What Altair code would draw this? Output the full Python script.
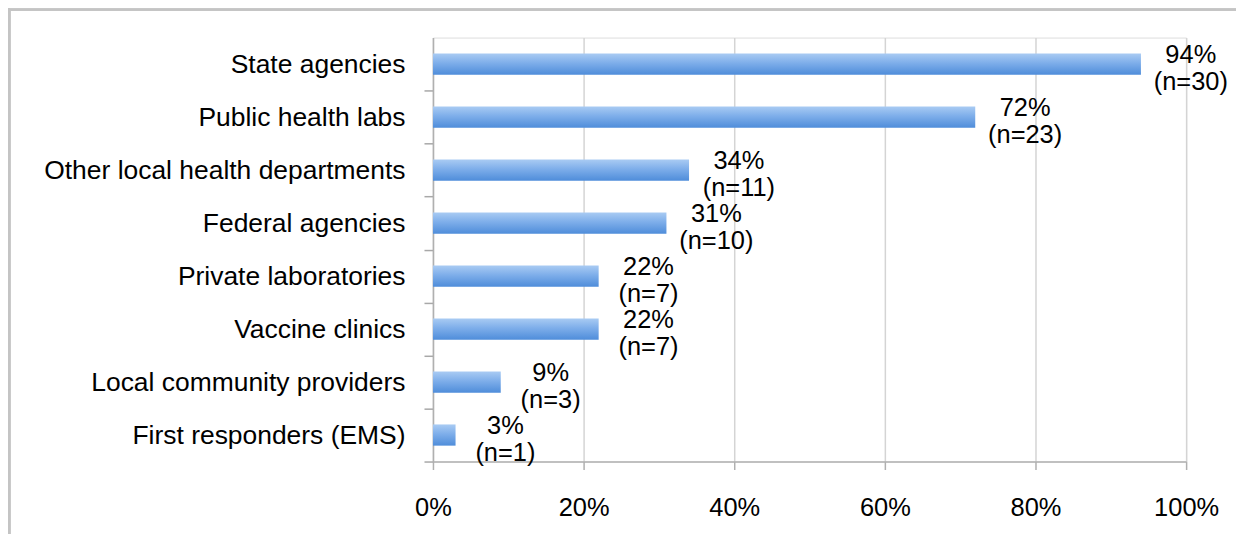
import altair as alt
import pandas as pd

categories = [
    "State agencies",
    "Public health labs",
    "Other local health departments",
    "Federal agencies",
    "Private laboratories",
    "Vaccine clinics",
    "Local community providers",
    "First responders (EMS)",
]
percent = [94, 72, 34, 31, 22, 22, 9, 3]
counts = [30, 23, 11, 10, 7, 7, 3, 1]
x_ticks = [0, 20, 40, 60, 80, 100]

df = pd.DataFrame({
    "category": categories,
    "pct": percent,
    "n": counts,
})
df["label"] = [f"{p}%\n(n={c})" for p, c in zip(percent, counts)]

FONT = "Liberation Sans"
FS = 25.5
W, H = 755, 425
STEP = H / 8

grad = alt.Gradient(
    gradient="linear",
    stops=[
        alt.GradientStop(color="#a9cbf3", offset=0),
        alt.GradientStop(color="#7eaeea", offset=0.45),
        alt.GradientStop(color="#4f8dda", offset=1),
    ],
    x1=0, x2=0, y1=0, y2=1,
)

y_enc = alt.Y(
    "category:N",
    sort=categories,
    scale=alt.Scale(paddingInner=0.6, paddingOuter=0.3),
    axis=alt.Axis(
        title=None,
        grid=False,
        tickOffset=STEP / 2,
        labelOffset=-STEP / 2,
        tickSize=9,
        tickColor="#a8a8a8",
        tickWidth=1.5,
        domainColor="#b0b0b0",
        domainWidth=1.5,
        labelPadding=19,
        labelFont=FONT,
        labelFontSize=26.5,
        labelColor="#000000",
        labelLimit=500,
    ),
)

x_enc = alt.X(
    "pct:Q",
    scale=alt.Scale(domain=[0, 100], nice=False),
    axis=alt.Axis(
        title=None,
        values=x_ticks,
        labelExpr="datum.value + '%'",
        labelFlush=False,
        grid=True,
        gridColor="#d4d4d4",
        gridWidth=1.5,
        tickSize=8,
        tickColor="#b0b0b0",
        tickWidth=1.5,
        domainColor="#b0b0b0",
        domainWidth=1.5,
        labelPadding=26,
        labelFont=FONT,
        labelFontSize=FS,
        labelColor="#000000",
    ),
)

bars = alt.Chart(df).mark_bar(color=grad).encode(x=x_enc, y=y_enc)

labels = alt.Chart(df).mark_text(
    font=FONT,
    fontSize=FS,
    lineBreak="\n",
    lineHeight=27,
    align="center",
    baseline="middle",
    dx=50,
    dy=-9,
    color="#000000",
).encode(
    x=alt.X("pct:Q"),
    y=alt.Y("category:N", sort=categories),
    text="label:N",
)

border_top = alt.Chart(df).mark_rule(color="#c4c4c4", strokeWidth=2).encode(
    x=alt.value(-426), x2=alt.value(W + 60), y=alt.value(-28)
)
border_left = alt.Chart(df).mark_rule(color="#c4c4c4", strokeWidth=2.5).encode(
    x=alt.value(-425), y=alt.value(-29), y2=alt.value(H + 80)
)

chart = alt.layer(bars, labels, border_top, border_left).properties(
    width=W,
    height=H,
    autosize=alt.AutoSizeParams(type="none"),
    padding={"left": 426, "top": 29, "right": 50, "bottom": 72},
).configure_view(stroke=None).configure(background="white")

chart.save("out.html", embed_options={"renderer": "svg", "actions": False})
